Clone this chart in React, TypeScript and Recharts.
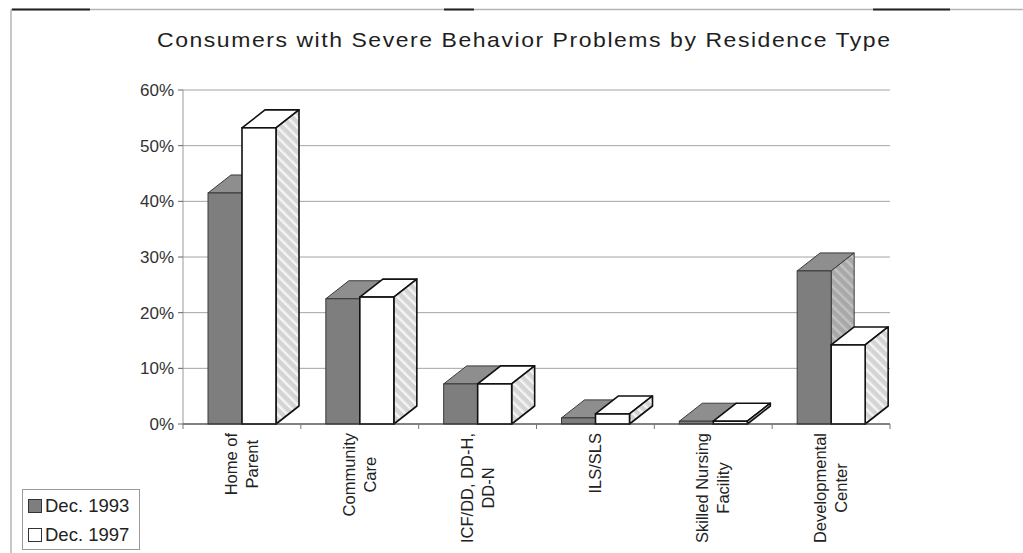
import React from 'react';
import { BarChart, Bar, XAxis, YAxis, CartesianGrid, Legend } from 'recharts';

// ---- data ----
const categories = [
  'Home of\nParent',
  'Community\nCare',
  'ICF/DD, DD-H,\nDD-N',
  'ILS/SLS',
  'Skilled Nursing\nFacility',
  'Developmental\nCenter',
];
const dec1993 = [41.5, 22.5, 7.2, 1.1, 0.5, 27.5];
const dec1997 = [53.2, 22.8, 7.2, 1.8, 0.5, 14.2];
const yTicks = [0, 10, 20, 30, 40, 50, 60];
const seriesNames = ['Dec. 1993', 'Dec. 1997'];
const title = 'Consumers with Severe Behavior Problems by Residence Type';

const data = categories.map((c, i) => ({ category: c, d1993: dec1993[i], d1997: dec1997[i] }));

// ---- layout / style ----
const W = 1023;
const H = 553;
const PLOT_LEFT = 183;
const PLOT_RIGHT = 890;
const PLOT_TOP = 90;
const PLOT_BOTTOM = 424;
const BAND = (PLOT_RIGHT - PLOT_LEFT) / categories.length;
const DX = 23;
const DY = 18;
const FONT = '"Liberation Sans", Arial, Helvetica, sans-serif';
const XFS = 16.5;
const TITLE_SX = 1.15;

let ctx: CanvasRenderingContext2D | null = null;
function measure(s: string, font: string): number {
  if (!ctx) ctx = document.createElement('canvas').getContext('2d');
  if (!ctx) return s.length * 8;
  ctx.font = font;
  return ctx.measureText(s).width;
}

type BoxStyle = {
  id: string;
  front: string;
  top: string;
  sideBase: string;
  sideStripe: string;
  stroke: string;
  sw: number;
};

function makeBox(st: BoxStyle) {
  return (props: any) => {
    const { x, y, width, height, index } = props;
    if (x == null || y == null || width == null || height == null) return <g />;
    const x2 = x + width;
    const yb = y + height;
    const pid = `hatch-${st.id}-${index}`;
    return (
      <g>
        <defs>
          <pattern id={pid} width={7} height={7} patternUnits="userSpaceOnUse" patternTransform="rotate(-45)">
            <rect width={7} height={7} fill={st.sideBase} />
            <rect width={2.5} height={7} fill={st.sideStripe} />
          </pattern>
        </defs>
        <polygon
          points={`${x},${y} ${x + DX},${y - DY} ${x2 + DX},${y - DY} ${x2},${y}`}
          fill={st.top}
          stroke={st.stroke}
          strokeWidth={st.sw}
          strokeLinejoin="round"
        />
        <polygon
          points={`${x2},${y} ${x2 + DX},${y - DY} ${x2 + DX},${yb - DY} ${x2},${yb}`}
          fill={`url(#${pid})`}
          stroke={st.stroke}
          strokeWidth={st.sw}
          strokeLinejoin="round"
        />
        <rect x={x} y={y} width={width} height={height} fill={st.front} stroke={st.stroke} strokeWidth={st.sw} />
      </g>
    );
  };
}

const darkStyle: BoxStyle = {
  id: 'a',
  front: '#7e7e7e',
  top: '#8e8e8e',
  sideBase: '#a8a8a8',
  sideStripe: '#c2c2c2',
  stroke: '#3a3a3a',
  sw: 1,
};
const whiteStyle: BoxStyle = {
  id: 'b',
  front: '#ffffff',
  top: '#ffffff',
  sideBase: '#d4d4d4',
  sideStripe: '#f4f4f4',
  stroke: '#111111',
  sw: 1.6,
};

function XTick(props: any) {
  const { x, payload, index } = props;
  const lines = String(payload.value).split('\n');
  const font = `${XFS}px "Liberation Sans"`;
  const maxW = Math.max(...lines.map((l) => measure(l, font)));
  const n = lines.length;
  const top = PLOT_BOTTOM + 9;
  return (
    <g>
      <line x1={x - BAND / 2} x2={x - BAND / 2} y1={PLOT_BOTTOM} y2={PLOT_BOTTOM + 5} stroke="#777" />
      {index === categories.length - 1 && (
        <line x1={x + BAND / 2} x2={x + BAND / 2} y1={PLOT_BOTTOM} y2={PLOT_BOTTOM + 5} stroke="#777" />
      )}
      <g transform={`translate(${x},${top + maxW / 2}) rotate(-90)`}>
        {lines.map((l, i) => (
          <text
            key={i}
            x={0}
            y={(i - (n - 1) / 2) * 21 + 5.5}
            textAnchor="middle"
            fontSize={XFS}
            fontFamily={FONT}
            fill="#222"
          >
            {l}
          </text>
        ))}
      </g>
    </g>
  );
}

function LegendBox(props: any) {
  const payload = props.payload || [];
  return (
    <div
      style={{
        width: 118,
        height: 61,
        border: '1px solid #999',
        boxSizing: 'border-box',
        fontFamily: FONT,
        fontSize: 18.5,
        color: '#222',
        background: '#fff',
        paddingTop: 1,
      }}
    >
      {payload.map((p: any, i: number) => (
        <div key={i} style={{ display: 'flex', alignItems: 'center', height: 29, whiteSpace: 'nowrap' }}>
          <span
            style={{
              display: 'inline-block',
              width: 12,
              height: 12,
              border: '1.5px solid #333',
              background: p.color,
              marginLeft: 5,
              marginRight: 3,
            }}
          />
          <span>{p.value}</span>
        </div>
      ))}
    </div>
  );
}

export default function App() {
  return (
    <div style={{ position: 'absolute', left: 0, top: 0, width: W, height: H, background: '#fff', overflow: 'hidden' }}>
      <svg width={W} height={H} style={{ position: 'absolute', left: 0, top: 0 }}>
        <line x1={11} y1={9.5} x2={W} y2={9.5} stroke="#b5b5b5" strokeWidth={1.5} />
        <line x1={11} y1={9.5} x2={11} y2={H} stroke="#b5b5b5" strokeWidth={1.5} />
        <line x1={12} y1={9.5} x2={90} y2={9.5} stroke="#222" strokeWidth={2} />
        <line x1={444} y1={9.5} x2={474} y2={9.5} stroke="#222" strokeWidth={2} />
        <line x1={873} y1={9.5} x2={950} y2={9.5} stroke="#222" strokeWidth={2} />
        <g transform={`translate(157,47) scale(${TITLE_SX},1)`}>
          <text
            x={0}
            y={0}
            fontFamily={FONT}
            fontSize={20}
            fill="#1e1e1e"
            textLength={733 / TITLE_SX}
            lengthAdjust="spacing"
          >
            {title}
          </text>
        </g>
      </svg>
      <div style={{ position: 'absolute', left: 0, top: 0 }}>
        <BarChart
          width={W}
          height={H}
          data={data}
          margin={{ top: PLOT_TOP, right: W - PLOT_RIGHT, bottom: 0, left: 0 }}
          barSize={34}
          barGap={0}
        >
          <CartesianGrid vertical={false} stroke="#a4a4a4" strokeWidth={1} />
          <YAxis
            domain={[0, 60]}
            ticks={yTicks}
            tickFormatter={(v: number) => `${v}%`}
            width={PLOT_LEFT}
            tick={{ fontSize: 17, fill: '#333', fontFamily: FONT }}
            axisLine={{ stroke: '#9a9a9a' }}
            tickLine={{ stroke: '#666' }}
            tickSize={5}
            tickMargin={4}
          />
          <XAxis
            dataKey="category"
            height={H - PLOT_BOTTOM}
            interval={0}
            tick={<XTick />}
            tickLine={false}
            axisLine={{ stroke: '#333', strokeWidth: 1.2 }}
          />
          <Legend
            layout="horizontal"
            verticalAlign="middle"
            align="center"
            content={<LegendBox />}
            wrapperStyle={{ position: 'absolute', left: 22, top: 489, width: 118, height: 61 }}
          />
          <Bar
            dataKey="d1993"
            name={seriesNames[0]}
            fill={darkStyle.front}
            isAnimationActive={false}
            shape={makeBox(darkStyle)}
          />
          <Bar
            dataKey="d1997"
            name={seriesNames[1]}
            fill={whiteStyle.front}
            isAnimationActive={false}
            shape={makeBox(whiteStyle)}
          />
        </BarChart>
      </div>
    </div>
  );
}
